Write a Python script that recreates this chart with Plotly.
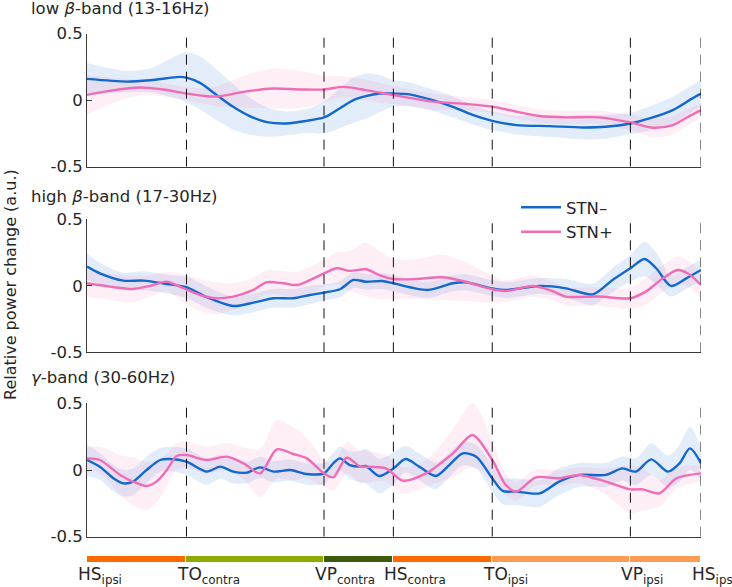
import plotly.graph_objects as go

# ---------------- data ----------------
events = [0, 16.2, 38.6, 49.9, 66.0, 88.5, 100]
event_labels = ["HS<sub>ipsi</sub>", "TO<sub>contra</sub>", "VP<sub>contra</sub>",
                "HS<sub>contra</sub>", "TO<sub>ipsi</sub>", "VP<sub>ipsi</sub>", "HS<sub>ipsi</sub>"]
phase_colors = ["#FF6A00", "#8CAA00", "#3E5A0C", "#FF6A00", "#FF9B55", "#FF9B55"]

panel_titles = ["low <i>β</i>-band (13-16Hz)", "high <i>β</i>-band (17-30Hz)", "<i>γ</i>-band (30-60Hz)"]

# low beta
lb_neg_x = [0, 6.5, 10.3, 15.1, 16.2, 18.4, 21.1, 23.8, 26.5, 29.3, 32.5, 35.8, 38.6, 41.2, 43.4, 45.4,
            47.6, 49.9, 52.5, 56.3, 59.6, 62.8, 66.0, 69.9, 75.3, 80.7, 84.5, 88.5, 91.6, 95.4, 98.6, 100]
lb_neg_y = [0.16, 0.14, 0.15, 0.175, 0.17, 0.13, 0.04, -0.05, -0.12, -0.165, -0.175, -0.155, -0.13, -0.06,
            0.0, 0.03, 0.05, 0.05, 0.044, 0.0, -0.05, -0.11, -0.155, -0.187, -0.195, -0.205, -0.2, -0.175,
            -0.137, -0.074, 0.014, 0.05]
lb_neg_e = [0.12, 0.08, 0.09, 0.17, 0.19, 0.2, 0.19, 0.17, 0.14, 0.11, 0.09, 0.09, 0.12, 0.15, 0.17, 0.17,
            0.14, 0.1, 0.09, 0.08, 0.08, 0.07, 0.07, 0.07, 0.08, 0.09, 0.09, 0.08, 0.09, 0.1, 0.1, 0.1]
lb_pos_x = [0, 3.7, 8.6, 12.4, 16.2, 19.5, 21.7, 25.5, 30.3, 34.7, 38.6, 41.7, 45.4, 49.9, 56.3, 61.7,
            66.0, 69.9, 73.7, 78.0, 83.4, 88.5, 92.1, 95.4, 98.4, 100]
lb_pos_y = [0.04, 0.07, 0.095, 0.08, 0.05, 0.03, 0.03, 0.063, 0.088, 0.081, 0.081, 0.1, 0.076, 0.039,
            -0.011, -0.028, -0.048, -0.086, -0.119, -0.129, -0.129, -0.167, -0.207, -0.187, -0.112, -0.074]
lb_pos_e = [0.15, 0.1, 0.06, 0.05, 0.05, 0.06, 0.08, 0.12, 0.15, 0.14, 0.1, 0.08, 0.08, 0.07, 0.06, 0.05,
            0.05, 0.05, 0.05, 0.05, 0.05, 0.06, 0.07, 0.07, 0.06, 0.05]

# high beta
hb_neg_x = [0, 2.1, 5.9, 9.2, 13.0, 16.2, 19.5, 23.8, 27.1, 30.4, 33.6, 36.3, 38.6, 41.2, 43.4, 45.4, 48.1,
            49.9, 55.5, 59.6, 61.7, 66.0, 68.3, 73.7, 78.0, 82.4, 85.6, 88.5, 90.8, 92.7, 95.1, 97.6, 100]
hb_neg_y = [0.144, 0.094, 0.039, 0.039, 0.014, -0.011, -0.086, -0.152, -0.127, -0.094, -0.094, -0.069,
            -0.051, -0.026, 0.044, 0.031, 0.036, 0.019, -0.031, 0.019, 0.026, -0.019, -0.031, -0.001,
            -0.019, -0.064, 0.044, 0.132, 0.202, 0.132, -0.001, 0.056, 0.119]
hb_neg_e = [0.1, 0.08, 0.06, 0.07, 0.07, 0.08, 0.08, 0.07, 0.07, 0.07, 0.07, 0.07, 0.06, 0.06, 0.06, 0.06,
            0.06, 0.06, 0.06, 0.06, 0.06, 0.06, 0.06, 0.06, 0.07, 0.08, 0.09, 0.1, 0.13, 0.12, 0.08, 0.08, 0.08]
hb_pos_x = [0, 3.7, 7.5, 10.3, 13.0, 15.1, 18.4, 21.1, 23.8, 27.1, 29.2, 32.0, 34.2, 36.9, 38.6, 40.7, 42.8,
            45.4, 47.6, 49.9, 53.6, 57.9, 61.2, 66.0, 68.3, 72.6, 75.8, 78.0, 83.4, 88.5, 91.0, 93.8, 96.2,
            98.0, 100]
hb_pos_y = [0.019, -0.006, -0.024, -0.001, 0.031, -0.006, -0.069, -0.094, -0.081, -0.031, 0.026, 0.019,
            0.006, 0.056, 0.094, 0.132, 0.112, 0.124, 0.081, 0.051, 0.051, 0.064, 0.036, -0.026, -0.039,
            -0.001, -0.039, -0.081, -0.081, -0.094, -0.044, 0.056, 0.119, 0.089, 0.006]
hb_pos_e = [0.1, 0.1, 0.1, 0.08, 0.07, 0.1, 0.12, 0.12, 0.1, 0.09, 0.09, 0.09, 0.1, 0.1, 0.1, 0.12, 0.15,
            0.2, 0.18, 0.15, 0.15, 0.17, 0.15, 0.1, 0.08, 0.08, 0.07, 0.07, 0.07, 0.08, 0.1, 0.1, 0.1, 0.1, 0.1]

# gamma
g_neg_x = [0, 2.1, 4.3, 5.9, 7.5, 9.7, 11.9, 13.5, 16.2, 19.5, 21.7, 23.8, 26.0, 28.2, 30.4, 33.1, 35.8,
           38.6, 40.1, 41.2, 42.8, 44.5, 45.4, 47.6, 49.9, 51.9, 54.1, 56.8, 59.0, 61.2, 63.4, 66.0, 67.7,
           69.9, 73.7, 76.9, 80.2, 84.5, 87.2, 89.4, 91.9, 94.6, 96.5, 98.2, 100]
g_neg_y = [0.075, 0.025, -0.062, -0.1, -0.087, 0.0, 0.075, 0.082, 0.062, -0.012, 0.025, -0.012, -0.02,
           0.02, -0.012, 0.0, -0.03, -0.025, 0.05, 0.087, 0.037, 0.025, 0.03, -0.045, 0.012, 0.082, 0.025,
           -0.045, 0.037, 0.125, 0.1, -0.062, -0.157, -0.162, -0.175, -0.087, -0.037, -0.037, 0.012,
           -0.012, 0.08, -0.012, 0.05, 0.162, 0.05]
g_neg_e = [0.12, 0.1, 0.1, 0.1, 0.1, 0.1, 0.09, 0.09, 0.1, 0.1, 0.09, 0.09, 0.08, 0.08, 0.08, 0.08, 0.08,
           0.08, 0.08, 0.09, 0.1, 0.12, 0.13, 0.13, 0.12, 0.1, 0.1, 0.1, 0.09, 0.09, 0.09, 0.1, 0.1,
           0.1, 0.1, 0.1, 0.09, 0.09, 0.09, 0.1, 0.12, 0.12, 0.14, 0.16, 0.12]
g_pos_x = [0, 2.1, 5.4, 7.5, 9.7, 11.3, 13.0, 14.6, 16.2, 19.5, 22.7, 25.5, 28.2, 30.9, 33.6, 35.8, 38.6,
           40.1, 42.3, 44.5, 45.4, 48.7, 51.4, 55.2, 59.6, 62.8, 66.0, 68.2, 69.9, 73.1, 76.9, 80.2, 84.5,
           88.5, 90.5, 93.2, 96.0, 100]
g_pos_y = [0.087, 0.075, -0.037, -0.087, -0.12, -0.087, 0.0, 0.105, 0.112, 0.075, 0.1, 0.05, -0.025,
           0.155, 0.12, 0.087, -0.025, -0.055, 0.092, 0.025, 0.025, 0.012, -0.08, -0.025, 0.125, 0.262,
           0.075, -0.112, -0.162, -0.055, -0.062, -0.037, -0.087, -0.145, -0.145, -0.175, -0.062, -0.025]
g_pos_e = [0.08, 0.1, 0.15, 0.18, 0.18, 0.16, 0.12, 0.1, 0.1, 0.1, 0.1, 0.12, 0.18, 0.22, 0.2, 0.15, 0.1,
           0.1, 0.12, 0.12, 0.12, 0.1, 0.1, 0.1, 0.18, 0.24, 0.15, 0.08, 0.07, 0.06, 0.06, 0.06, 0.1, 0.18,
           0.16, 0.1, 0.08, 0.06]

panels = [
    (lb_neg_x, lb_neg_y, lb_neg_e, lb_pos_x, lb_pos_y, lb_pos_e),
    (hb_neg_x, hb_neg_y, hb_neg_e, hb_pos_x, hb_pos_y, hb_pos_e),
    (g_neg_x, g_neg_y, g_neg_e, g_pos_x, g_pos_y, g_pos_e),
]

# ---------------- styling ----------------
BLUE = "rgb(18,104,204)"
PINK = "rgb(240,108,180)"
BLUE_F = "rgba(60,130,220,0.14)"
PINK_F = "rgba(245,120,185,0.13)"
FONT = "DejaVu Sans"
TXT = "#262626"
AX = "#3a3a3a"

W, H = 732, 587
ML, MR = 87, 31
PW = W - ML - MR
# target pixel positions of panel tops/bottoms
panel_px = [(33.7, 166.7), (219.3, 352.3), (403.3, 536.7)]
bar_px = (556.0, 563.3)


def py2paper(p):
    return 1 - p / H


def px2paper(p):
    return (p - ML) / PW


fig = go.Figure()

for i, (nx, ny, ne, px_, py_, pe) in enumerate(panels):
    ax = "" if i == 0 else str(i + 1)
    xa, ya = "x" + ax, "y" + ax
    # bands
    for xs, ys, es, fc in [(nx, ny, ne, BLUE_F), (px_, py_, pe, PINK_F)]:
        lo = [m - e for m, e in zip(ys, es)]
        hi = [m + e for m, e in zip(ys, es)]
        fig.add_trace(go.Scatter(x=xs, y=lo, mode="lines", line=dict(width=0, shape="spline", smoothing=0.8),
                                 xaxis=xa, yaxis=ya, showlegend=False, hoverinfo="skip"))
        fig.add_trace(go.Scatter(x=xs, y=hi, mode="lines", line=dict(width=0, shape="spline", smoothing=0.8),
                                 fill="tonexty", fillcolor=fc, xaxis=xa, yaxis=ya, showlegend=False,
                                 hoverinfo="skip"))
    fig.add_trace(go.Scatter(x=nx, y=ny, mode="lines", name="STN–",
                             line=dict(color=BLUE, width=2.4, shape="spline", smoothing=0.8),
                             xaxis=xa, yaxis=ya, showlegend=(i == 0), legendgroup="neg"))
    fig.add_trace(go.Scatter(x=px_, y=py_, mode="lines", name="STN+",
                             line=dict(color=PINK, width=2.4, shape="spline", smoothing=0.8),
                             xaxis=xa, yaxis=ya, showlegend=(i == 0), legendgroup="pos"))

# phase bar
starts = events[:-1]
widths = [b - a for a, b in zip(events[:-1], events[1:])]
fig.add_trace(go.Bar(x=widths, base=starts, y=[0] * len(widths), orientation="h",
                     marker=dict(color=phase_colors, line=dict(color="white", width=1)),
                     width=1, xaxis="x4", yaxis="y4", showlegend=False, hoverinfo="skip"))

layout = dict(
    width=W, height=H,
    margin=dict(l=ML, r=MR, t=0, b=0, pad=0),
    paper_bgcolor="white", plot_bgcolor="rgba(0,0,0,0)",
    font=dict(family=FONT, size=16, color=TXT),
    showlegend=True,
    legend=dict(x=px2paper(516), y=py2paper(190), xanchor="left", yanchor="top",
                bgcolor="rgba(0,0,0,0)", font=dict(size=16.5, color=TXT),
                tracegroupgap=0, itemwidth=40),
    bargap=0,
)

shapes = []
annotations = []
for i, (t, b) in enumerate(panel_px):
    ax = "" if i == 0 else str(i + 1)
    layout["xaxis" + ax] = dict(domain=[0, 1], range=[0, 100], anchor="y" + ax, showline=True,
                                linecolor=AX, linewidth=1, showticklabels=False, ticks="",
                                showgrid=False, zeroline=False, fixedrange=True, automargin=False)
    layout["yaxis" + ax] = dict(domain=[py2paper(b), py2paper(t)], range=[-0.5, 0.5], anchor="x" + ax,
                                showline=True, linecolor=AX, linewidth=1, ticks="inside", ticklen=5,
                                tickcolor=AX, tickvals=[-0.5, 0, 0.5], ticktext=["-0.5", "0", "0.5"],
                                tickfont=dict(size=16.5, color=TXT), showgrid=False, zeroline=False,
                                fixedrange=True, automargin=False)
    for ev in events[1:]:
        shapes.append(dict(type="line", xref="x" + ax, yref="y" + ax, x0=ev, x1=ev, y0=-0.5, y1=0.5,
                           line=dict(color="#111111", width=1, dash="10px,7px"), layer="above"))
    title_y = [8, 196, 377][i]
    annotations.append(dict(text=panel_titles[i], xref="paper", yref="paper", x=px2paper(29),
                            y=py2paper(title_y), xanchor="left", yanchor="middle", showarrow=False,
                            font=dict(size=16.5, color=TXT)))

layout["xaxis4"] = dict(domain=[0, 1], range=[0, 100], anchor="y4", visible=False, fixedrange=True,
                        automargin=False)
layout["yaxis4"] = dict(domain=[py2paper(bar_px[1]), py2paper(bar_px[0])], range=[-0.5, 0.5],
                        anchor="x4", visible=False, fixedrange=True, automargin=False)

for ev, lab in zip(events, event_labels):
    annotations.append(dict(text=lab, xref="x4", yref="paper", x=ev, y=py2paper(562), xanchor="left",
                            yanchor="top", xshift=-11, showarrow=False, font=dict(size=17, color=TXT)))

annotations.append(dict(text="Relative power change (a.u.)", xref="paper", yref="paper",
                        x=px2paper(10), y=py2paper(285), xanchor="center", yanchor="middle",
                        textangle=-90, showarrow=False, font=dict(size=16, color=TXT)))

layout["shapes"] = shapes
layout["annotations"] = annotations
fig.update_layout(**layout)

fig.write_html("out.html", config={"displayModeBar": False},
               post_script="document.body.style.margin='0px';")
